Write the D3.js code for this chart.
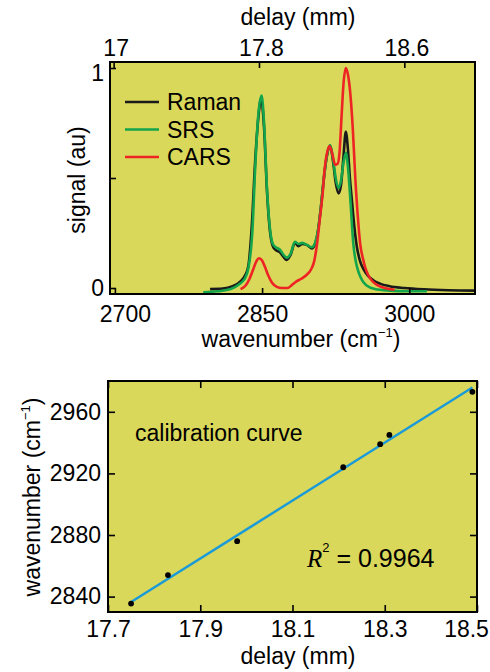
<!DOCTYPE html>
<html><head><meta charset="utf-8">
<script src="https://cdn.jsdelivr.net/npm/d3@7"></script>
<style>
body{margin:0;background:#fff}
text{font-family:"Liberation Sans",Arial,sans-serif;fill:#000}
</style>
</head><body>
<svg id="c" width="490" height="672"></svg>
<script>
// ---------- data: spectra (top panel) ----------
const wnRaman = [2797,2810,2820,2828,2833,2836,2839.5,2843,2846.3,2849,2852,2855,2858,2861,2864,2868,2872,2875,2879,2883.5,2887,2891,2896,2900.5,2904,2907,2910,2913,2916,2919.4,2922.5,2925,2928,2930.5,2933,2935.3,2937.5,2939.5,2941.5,2944,2946.5,2950,2953.5,2958,2964,2970,2980,2995,3015,3040,3067];
const raman   = [-0.005,-0.003,0.008,0.03,0.06,0.1,0.28,0.58,0.78,0.86,0.73,0.44,0.26,0.19,0.172,0.163,0.14,0.128,0.15,0.205,0.19,0.2,0.195,0.18,0.2,0.26,0.37,0.5,0.6,0.645,0.57,0.48,0.43,0.47,0.6,0.71,0.63,0.5,0.4,0.28,0.19,0.12,0.085,0.055,0.033,0.02,0.008,0.0,-0.006,-0.01,-0.012];

const wnSRS = [2790,2805,2818,2826,2832,2836,2840,2843,2846,2849.5,2852,2855,2858,2861,2864,2868,2872,2875,2879,2883.5,2887,2891,2896,2900.5,2904,2907,2910,2913,2916,2919.4,2922.5,2925,2928,2930.5,2933,2935.4,2937.5,2940,2943,2946,2948.5,2952,2957,2965,2980,3000,3018];
const srs   = [-0.02,-0.015,-0.005,0.015,0.04,0.09,0.25,0.55,0.78,0.875,0.75,0.45,0.27,0.2,0.185,0.175,0.15,0.138,0.155,0.21,0.2,0.205,0.195,0.185,0.205,0.26,0.37,0.5,0.6,0.65,0.58,0.5,0.455,0.49,0.57,0.615,0.55,0.4,0.2,0.11,0.07,0.035,0.01,-0.005,-0.012,-0.015,-0.015];

const wnCARS = [2828,2833,2837,2841,2844,2847,2850,2853,2856,2860,2865,2870,2876,2880,2885,2890,2895,2900,2903,2906,2909,2911.5,2914,2916.5,2918.7,2921,2924.5,2927,2929,2931,2933,2935.4,2937.5,2940,2942.5,2945,2948,2950,2953,2955,2958,2962,2968,2975,2985];
const cars   = [-0.005,0.01,0.04,0.085,0.12,0.135,0.125,0.095,0.06,0.025,0.005,0.0,0.0,0.012,0.03,0.042,0.058,0.085,0.12,0.2,0.32,0.42,0.55,0.62,0.645,0.62,0.56,0.565,0.62,0.78,0.93,1.0,0.97,0.88,0.72,0.5,0.3,0.2,0.13,0.095,0.06,0.033,0.012,0.0,-0.008];

const seriesNames  = ["Raman","SRS","CARS"];
const seriesColors = ["#1a1a1a","#13a54b","#ee2424"];

// ---------- data: calibration (bottom panel) ----------
const delayPts = [17.75,17.83,17.98,18.21,18.29,18.31,18.49];
const wnPts    = [2835.5,2854,2876,2924,2939,2945,2973];
const r2Text   = "0.9964";

// ---------- ticks ----------
const wnTicksTop     = [2700,2850,3000];
const delayTicksTop  = [17,17.8,18.6];
const signalTicks    = [0,0.5,1];
const delayTicksBot  = [17.7,17.9,18.1,18.3,18.5];
const wnTicksBot     = [2840,2880,2920,2960];

const svg = d3.select("#c");
const BG = "#d9d85a";
const FS = 23;

// ================= TOP PANEL =================
const T = {l:110, r:475, t:62, b:294};
const xWn = d3.scaleLinear().domain([2695,3067]).range([T.l,T.r]);
const xDelayTop = d3.scaleLinear().domain([16.98,18.989]).range([T.l,T.r]);
const ySig = d3.scaleLinear().domain([-0.0273,1.0273]).range([T.b,T.t]);

svg.append("rect").attr("x",T.l).attr("y",T.t).attr("width",T.r-T.l).attr("height",T.b-T.t).attr("fill",BG);

svg.append("clipPath").attr("id","clipT").append("rect")
  .attr("x",T.l).attr("y",T.t).attr("width",T.r-T.l).attr("height",T.b-T.t);

const spectra = [
  {x:wnRaman, y:raman},
  {x:wnSRS, y:srs},
  {x:wnCARS, y:cars}
];
const lineT = d3.line().x(d=>xWn(d[0])).y(d=>ySig(d[1])).curve(d3.curveMonotoneX);
spectra.forEach((s,i)=>{
  svg.append("path").attr("clip-path","url(#clipT)")
    .datum(s.x.map((v,j)=>[v,s.y[j]]))
    .attr("d",lineT).attr("fill","none")
    .attr("stroke",seriesColors[i]).attr("stroke-width",2.6).attr("stroke-linejoin","round");
});

// axes top panel
const axB = svg.append("g").attr("transform",`translate(0,${T.b})`)
  .call(d3.axisBottom(xWn).tickValues(wnTicksTop).tickSizeInner(-6).tickSizeOuter(0).tickFormat(d3.format("d")));
axB.selectAll("text").attr("dy",null).attr("y",28).attr("dx",(d,i)=>i===0?10:0);

const axT = svg.append("g").attr("transform",`translate(0,${T.t})`)
  .call(d3.axisTop(xDelayTop).tickValues(delayTicksTop).tickSizeInner(-6).tickSizeOuter(0).tickPadding(6).tickFormat(d=>String(d)));
axT.selectAll("text").attr("dy",null).attr("dx",2);

const axL = svg.append("g").attr("transform",`translate(${T.l},0)`)
  .call(d3.axisLeft(ySig).tickValues(signalTicks).tickSizeInner(-6).tickSizeOuter(0).tickPadding(6).tickFormat(d=>d===0.5?"":String(d)));
axL.selectAll("text").attr("dy",(d)=>d===1?"0.55em":"0.32em");

[axB,axT,axL].forEach(a=>{
  a.select(".domain").remove();
  a.selectAll("line").attr("stroke","#000").attr("stroke-width",1.6);
  a.selectAll("text").attr("font-size",FS).attr("font-family","Liberation Sans, Arial, sans-serif").attr("fill","#000");
});

svg.append("rect").attr("x",T.l).attr("y",T.t).attr("width",T.r-T.l).attr("height",T.b-T.t)
  .attr("fill","none").attr("stroke","#000").attr("stroke-width",2);

// legend
const leg = svg.append("g");
seriesNames.forEach((n,i)=>{
  const y = 102 + i*27.5;
  leg.append("line").attr("x1",125).attr("x2",159).attr("y1",y).attr("y2",y)
    .attr("stroke",seriesColors[i]).attr("stroke-width",2.6);
  leg.append("text").attr("x",167).attr("y",y+8).attr("font-size",FS).text(n);
});

// labels top panel
svg.append("text").attr("x",298).attr("y",25).attr("text-anchor","middle").attr("font-size",FS).text("delay (mm)");
const xl = svg.append("text").attr("x",301).attr("y",347).attr("text-anchor","middle").attr("font-size",FS);
xl.append("tspan").text("wavenumber (cm");
xl.append("tspan").attr("dy",-10).attr("font-size",13).text("\u22121");
xl.append("tspan").attr("dy",10).text(")");
svg.append("text").attr("transform","translate(85,180) rotate(-90)").attr("text-anchor","middle").attr("font-size",FS).text("signal (au)");

// ================= BOTTOM PANEL =================
const B = {l:108, r:477, t:381, b:612};
const xD = d3.scaleLinear().domain([17.7,18.5]).range([B.l,B.r]);
const yW = d3.scaleLinear().domain([2830,2980]).range([B.b,B.t]);

svg.append("rect").attr("x",B.l).attr("y",B.t).attr("width",B.r-B.l).attr("height",B.b-B.t).attr("fill",BG);

// least-squares fit of the calibration points
const mx = d3.mean(delayPts), my = d3.mean(wnPts);
const sxy = d3.sum(delayPts.map((x,i)=>(x-mx)*(wnPts[i]-my)));
const sxx = d3.sum(delayPts.map(x=>(x-mx)*(x-mx)));
const slope = sxy/sxx, icpt = my - slope*mx;
const ext = d3.extent(delayPts);
svg.append("line")
  .attr("x1",xD(ext[0])).attr("y1",yW(icpt+slope*ext[0]))
  .attr("x2",xD(ext[1])).attr("y2",yW(icpt+slope*ext[1]))
  .attr("stroke","#1b9ad8").attr("stroke-width",2.4);

svg.append("g").selectAll("circle").data(delayPts.map((x,i)=>[x,wnPts[i]])).join("circle")
  .attr("cx",d=>xD(d[0])).attr("cy",d=>yW(d[1])).attr("r",2.9).attr("fill","#000");

const bB = svg.append("g").attr("transform",`translate(0,${B.b})`)
  .call(d3.axisBottom(xD).tickValues(delayTicksBot).tickSizeInner(-7).tickSizeOuter(0).tickFormat(d3.format(".1f")));
bB.selectAll("text").attr("dy",null).attr("y",25)
  .attr("dx",(d,i)=>i===delayTicksBot.length-1?-11:0);
const bT = svg.append("g").attr("transform",`translate(0,${B.t})`)
  .call(d3.axisTop(xD).tickValues(delayTicksBot).tickSizeInner(-7).tickSizeOuter(0).tickFormat(""));
const bL = svg.append("g").attr("transform",`translate(${B.l},0)`)
  .call(d3.axisLeft(yW).tickValues(wnTicksBot).tickSizeInner(-7).tickSizeOuter(0).tickPadding(7).tickFormat(d3.format("d")));
const bR = svg.append("g").attr("transform",`translate(${B.r},0)`)
  .call(d3.axisRight(yW).tickValues(wnTicksBot).tickSizeInner(-7).tickSizeOuter(0).tickFormat(""));
[bB,bT,bL,bR].forEach(a=>{
  a.select(".domain").remove();
  a.selectAll("line").attr("stroke","#000").attr("stroke-width",1.6);
  a.selectAll("text").attr("font-size",FS).attr("font-family","Liberation Sans, Arial, sans-serif").attr("fill","#000");
});

svg.append("rect").attr("x",B.l).attr("y",B.t).attr("width",B.r-B.l).attr("height",B.b-B.t)
  .attr("fill","none").attr("stroke","#000").attr("stroke-width",2);

svg.append("text").attr("x",135).attr("y",441).attr("font-size",FS).text("calibration curve");
const r2 = svg.append("text").attr("x",307).attr("y",567).attr("font-size",25);
r2.append("tspan").attr("font-family","Liberation Serif, Times New Roman, serif").attr("font-style","italic").text("R");
r2.append("tspan").attr("dy",-15).attr("font-size",13).text("2");
r2.append("tspan").attr("dy",15).text(" = " + r2Text);

svg.append("text").attr("x",298).attr("y",664).attr("text-anchor","middle").attr("font-size",FS).text("delay (mm)");
const yl = svg.append("text").attr("transform","translate(40,497) rotate(-90)").attr("text-anchor","middle").attr("font-size",FS);
yl.append("tspan").text("wavenumber (cm");
yl.append("tspan").attr("dy",-10).attr("font-size",13).text("\u22121");
yl.append("tspan").attr("dy",10).text(")");
</script>
</body></html>
